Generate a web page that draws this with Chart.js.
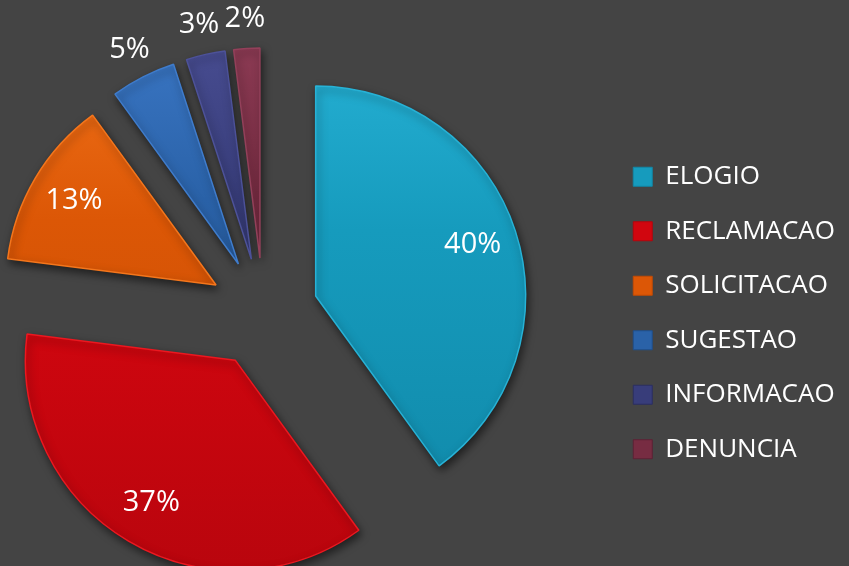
<!DOCTYPE html>
<html lang="pt">
<head>
  <meta charset="UTF-8" />
  <title>Manifestacoes por tipo</title>
  <script src="https://cdn.jsdelivr.net/npm/chart.js"></script>
  <style>
    body {
      margin: 0;
      padding: 0;
      background-color: #444444;
      overflow: hidden;
    }
    /* canvas is a bit wider than the page so the pie sits further left */
    canvas {
      display: block;
      margin-left: -78px;
    }
  </style>
</head>
<body>

<canvas id="pieChart" width="927" height="566"></canvas>

<script>
  // data
  const categories = ['ELOGIO', 'RECLAMACAO', 'SOLICITACAO', 'SUGESTAO', 'INFORMACAO', 'DENUNCIA'];
  const shares = [40, 37, 13, 5, 3, 2];

  // slice colours (base, light, dark)
  const baseColors = ['#169bbd', '#d1060f', '#dc5706', '#2a62a8', '#383d7a', '#772c42'];
  const lightColors = ['#27b2d6', '#ec1820', '#f4761c', '#3f7ccc', '#4d5299', '#93405a'];
  const darkColors = ['#1088a8', '#b6050d', '#c24b04', '#1f4f8c', '#2b2f62', '#5e2134'];

  const pull = 55;        // how far every slice is pulled out, px
  const pieRadius = 210;

  function sliceFill(context) {
    const i = context.dataIndex;
    const c = context.chart.ctx;
    const g = c.createLinearGradient(0, 40, 0, 560);
    g.addColorStop(0, lightColors[i]);
    g.addColorStop(0.4, baseColors[i]);
    g.addColorStop(1, darkColors[i]);
    return g;
  }

  // draw each slice pulled out along its middle angle, with a soft shadow
  const explode = {
    id: 'explode',
    beforeDatasetDraw(chart, args) {
      const c = chart.ctx;
      args.meta.data.forEach(arc => {
        const mid = (arc.startAngle + arc.endAngle) / 2;
        c.save();
        c.shadowColor = 'rgba(0,0,0,0.55)';
        c.shadowBlur = 8;
        c.shadowOffsetX = 2;
        c.shadowOffsetY = 4;
        c.translate(Math.cos(mid) * pull, Math.sin(mid) * pull);
        arc.draw(c);
        c.restore();
      });
      return false;
    }
  };

  // percentage labels
  const pctLabels = {
    id: 'pctLabels',
    afterDraw(chart) {
      const c = chart.ctx;
      const meta = chart.getDatasetMeta(0);
      c.save();
      c.fillStyle = '#ffffff';
      c.font = '29px "Open Sans"';
      c.textAlign = 'center';
      c.textBaseline = 'middle';
      meta.data.forEach((arc, i) => {
        const p = arc.getProps(['x', 'y', 'startAngle', 'endAngle', 'outerRadius'], true);
        const mid = (p.startAngle + p.endAngle) / 2;
        const f = shares[i] >= 10 ? 0.786 : 1.143;
        const d = pull + f * p.outerRadius;
        c.fillText(shares[i] + '%', p.x + Math.cos(mid) * d, p.y + Math.sin(mid) * d);
      });
      c.restore();
    }
  };

  new Chart(document.getElementById('pieChart'), {
    type: 'pie',
    data: {
      labels: categories,
      datasets: [{
        data: shares,
        backgroundColor: sliceFill,
        borderColor: lightColors,
        borderWidth: 1.5
      }]
    },
    options: {
      responsive: false,
      animation: false,
      radius: pieRadius,
      layout: {
        padding: { top: 60, right: 4, bottom: 0, left: 0 }
      },
      plugins: {
        tooltip: { enabled: false },
        legend: {
          position: 'right',
          align: 'center',
          labels: {
            color: '#ffffff',
            font: { family: 'Open Sans', size: 26 },
            boxWidth: 19,
            boxHeight: 19,
            padding: 28.5,
            generateLabels(chart) {
              return categories.map((name, i) => ({
                text: name,
                fillStyle: baseColors[i],
                strokeStyle: darkColors[i],
                lineWidth: 1,
                fontColor: '#ffffff',
                index: i
              }));
            }
          }
        }
      }
    },
    plugins: [explode, pctLabels]
  });
</script>

</body>
</html>
